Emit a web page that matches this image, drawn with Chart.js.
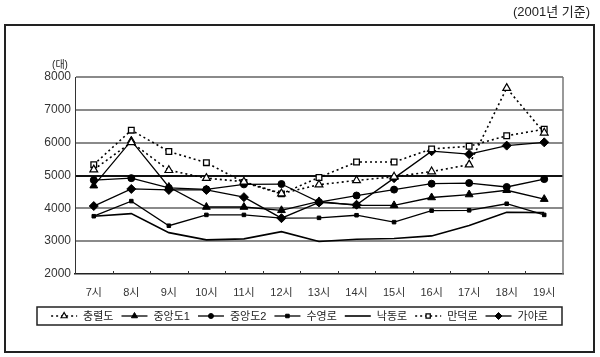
<!DOCTYPE html>
<html><head><meta charset="utf-8">
<script src="https://cdn.jsdelivr.net/npm/chart.js@4.4.1/dist/chart.umd.min.js"></script>
<style>html,body{margin:0;padding:0;background:#fff}</style>
</head><body>
<canvas id="c" width="600" height="357"></canvas>
<script>
const categories = ['7시','8시','9시','10시','11시','12시','13시','14시','15시','16시','17시','18시','19시'];
const chungryeol = [5180, 6010, 5160, 4920, 4810, 4450, 4720, 4850, 4960, 5120, 5330, 7660, 6300];
const jungang1   = [4690, 6060, 4650, 4040, 4040, 3940, 4210, 4090, 4090, 4330, 4420, 4550, 4280];
const jungang2   = [4860, 4920, 4620, 4580, 4730, 4740, 4190, 4390, 4570, 4750, 4770, 4650, 4890];
const suyeong    = [3760, 4220, 3470, 3800, 3800, 3700, 3710, 3790, 3580, 3930, 3940, 4140, 3800];
const nakdong    = [3760, 3840, 3260, 3040, 3070, 3290, 2990, 3060, 3080, 3160, 3480, 3880, 3870];
const mandeok    = [5330, 6380, 5730, 5390, 4790, 4440, 4940, 5410, 5410, 5810, 5890, 6210, 6410];
const gaya       = [4070, 4590, 4560, 4560, 4340, 3700, 4180, 4110, 4920, 5740, 5650, 5910, 6010];
const yMin = 2000, yMax = 8000, yStep = 1000;
const titleText = '(2001년 기준)';
const unitText = '(대)';

const FONT = '"Liberation Sans", "Noto Sans CJK KR", sans-serif';
const base = {borderColor:'#000', borderWidth:1.3, tension:0, pointBorderColor:'#000', pointBackgroundColor:'#000', pointBorderWidth:1, fill:false};

const datasets = [
  Object.assign({}, base, {label:'충렬도', data:chungryeol, borderDash:[2,3], borderWidth:1.6, pointStyle:'triangle', pointRadius:4.5, pointBackgroundColor:'#fff', pointBorderWidth:1.2}),
  Object.assign({}, base, {label:'중앙도1', data:jungang1, pointStyle:'triangle', pointRadius:4.5}),
  Object.assign({}, base, {label:'중앙도2', data:jungang2, pointStyle:'circle', pointRadius:3.5}),
  Object.assign({}, base, {label:'수영로', data:suyeong, pointStyle:'rect', pointRadius:2.5}),
  Object.assign({}, base, {label:'낙동로', data:nakdong, pointStyle:'circle', pointRadius:0, borderWidth:1.6}),
  Object.assign({}, base, {label:'만덕로', data:mandeok, borderDash:[2,3], borderWidth:1.6, pointStyle:'rect', pointRadius:4, pointBackgroundColor:'#fff', pointBorderWidth:1.3}),
  Object.assign({}, base, {label:'가야로', data:gaya, pointStyle:'rectRot', pointRadius:4.5})
];

const decor = {
  id:'decor',
  beforeDraw(chart){
    const ctx = chart.ctx;
    ctx.save();
    ctx.fillStyle = '#fff';
    ctx.fillRect(0,0,chart.width,chart.height);
    ctx.strokeStyle = '#222';
    ctx.lineWidth = 2;
    ctx.strokeRect(5,25,589,327);
    ctx.fillStyle = '#222';
    ctx.font = '13px ' + FONT;
    ctx.textAlign = 'right';
    ctx.textBaseline = 'middle';
    ctx.fillText(titleText, 590, 12);
    ctx.font = '10px ' + FONT;
    ctx.textAlign = 'center';
    ctx.fillText(unitText, 60, 65);
    ctx.restore();
  },
  afterDraw(chart){
    const ctx = chart.ctx, a = chart.chartArea, xs = chart.scales.x;
    ctx.save();
    ctx.strokeStyle = '#777'; ctx.lineWidth = 1.5;
    ctx.beginPath(); ctx.moveTo(a.right, a.top); ctx.lineTo(a.right, a.bottom); ctx.stroke();
    const half = (xs.getPixelForValue(1) - xs.getPixelForValue(0)) / 2;
    ctx.strokeStyle = '#333'; ctx.lineWidth = 1;
    for (let i = 0; i < categories.length - 1; i++) {
      const x = Math.round(xs.getPixelForValue(i) + half) + 0.5;
      ctx.beginPath(); ctx.moveTo(x, a.bottom); ctx.lineTo(x, a.bottom - 3); ctx.stroke();
    }
    const boxL = 37, boxR = 562, boxT = 307, boxB = 325, cy = 316;
    ctx.font = '11px ' + FONT;
    const sample = 26, gapT = 6, gapI = 8;
    const ds = chart.data.datasets;
    const widths = ds.map(d => ctx.measureText(d.label).width);
    let total = widths.reduce((s,w)=>s + sample + gapT + w, 0) + gapI*(ds.length-1);
    let x = (boxL + boxR)/2 - total/2;
    ctx.strokeStyle = '#222'; ctx.lineWidth = 1.5;
    ctx.strokeRect(boxL, boxT, boxR-boxL, boxB-boxT);
    ds.forEach((d,i) => {
      ctx.save();
      ctx.strokeStyle = '#000'; ctx.lineWidth = d.borderWidth;
      ctx.setLineDash(d.borderDash || []);
      ctx.beginPath(); ctx.moveTo(x, cy); ctx.lineTo(x+sample, cy); ctx.stroke();
      ctx.setLineDash([]);
      if (d.pointRadius > 0) {
        ctx.fillStyle = d.pointBackgroundColor; ctx.strokeStyle = '#000';
        ctx.lineWidth = d.pointBorderWidth;
        Chart.helpers.drawPoint(ctx, {pointStyle:d.pointStyle, radius:Math.max(2.5, d.pointRadius-1), borderWidth:d.pointBorderWidth, rotation:0}, x+sample/2, cy);
      }
      ctx.restore();
      ctx.fillStyle = '#222'; ctx.textAlign = 'left'; ctx.textBaseline = 'middle';
      ctx.fillText(d.label, x + sample + gapT, cy + 0.5);
      x += sample + gapT + widths[i] + gapI;
    });
    ctx.restore();
  }
};

new Chart(document.getElementById('c'), {
  type:'line',
  data:{labels:categories, datasets:datasets},
  plugins:[decor],
  options:{
    responsive:false, animation:false, devicePixelRatio:1,
    layout:{padding:{left:20, right:37, top:77, bottom:60}},
    plugins:{legend:{display:false}, tooltip:{enabled:false}},
    scales:{
      x:{
        offset:true,
        grid:{display:false, offset:true},
        border:{display:true, color:'#222', width:1.5},
        ticks:{color:'#333', font:{size:11, family:FONT}, padding:4, maxRotation:0, autoSkip:false},
        afterFit(s){ s.height = 23; }
      },
      y:{
        min:yMin, max:yMax,
        ticks:{stepSize:yStep, color:'#333', font:{size:12, family:FONT}, padding:4, callback:(v)=>String(v)},
        grid:{
          drawTicks:false,
          color:(c)=> c.tick && c.tick.value === 5000 ? '#111' : '#8a8a8a',
          lineWidth:(c)=> c.tick && c.tick.value === 2000 ? 0 : 2
        },
        border:{display:true, color:'#333', width:1},
        afterFit(s){ s.width = 55; }
      }
    }
  }
});
</script>
</body></html>
